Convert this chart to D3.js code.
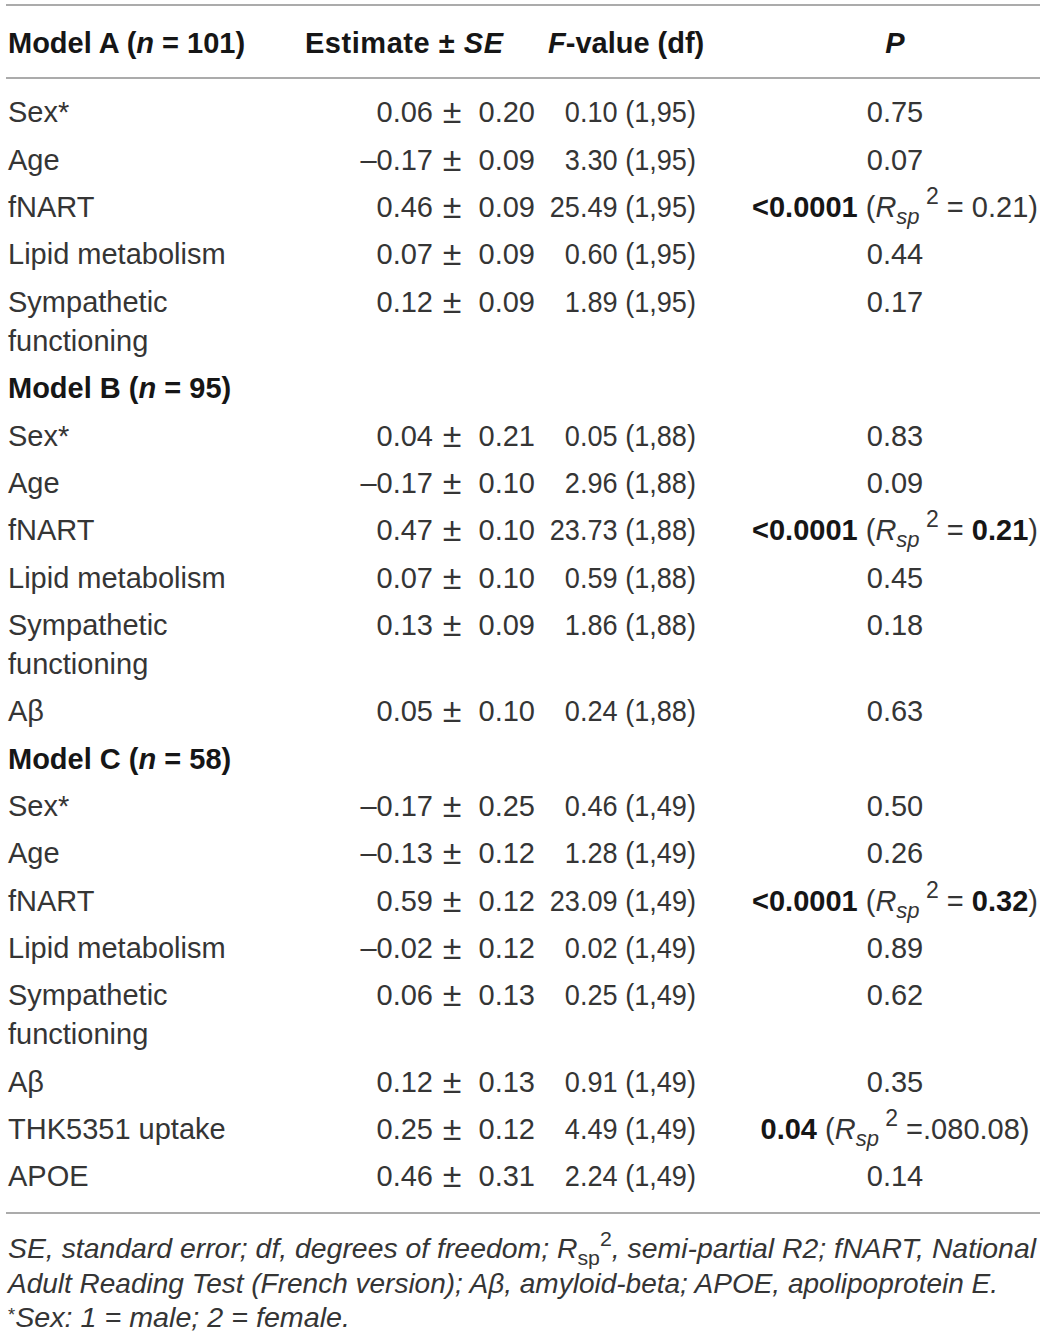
<!DOCTYPE html>
<html>
<head>
<meta charset="utf-8">
<script src="https://cdn.jsdelivr.net/npm/d3@7"></script>
<style>
  html, body { margin: 0; padding: 0; background: #fff; }
  svg { display: block; }
  text { font-family: "Liberation Sans", Arial, Helvetica, sans-serif; }
</style>
</head>
<body>
<svg id="chart" width="1042" height="1340"></svg>
<script>
// ---------------- DATA ----------------
const modelNames = ["Model A", "Model B", "Model C"];
const modelN = [101, 95, 58];
const modelDf = ["1,95", "1,88", "1,49"];

const rowModel = [0,0,0,0,0, 1,1,1,1,1,1, 2,2,2,2,2,2,2,2];
const variables = [
  "Sex*", "Age", "fNART", "Lipid metabolism", "Sympathetic functioning",
  "Sex*", "Age", "fNART", "Lipid metabolism", "Sympathetic functioning", "Aβ",
  "Sex*", "Age", "fNART", "Lipid metabolism", "Sympathetic functioning", "Aβ", "THK5351 uptake", "APOE"
];
const estimates = [0.06, -0.17, 0.46, 0.07, 0.12,
                   0.04, -0.17, 0.47, 0.07, 0.13, 0.05,
                   -0.17, -0.13, 0.59, -0.02, 0.06, 0.12, 0.25, 0.46];
const stdErrors = [0.20, 0.09, 0.09, 0.09, 0.09,
                   0.21, 0.10, 0.10, 0.10, 0.09, 0.10,
                   0.25, 0.12, 0.12, 0.12, 0.13, 0.13, 0.12, 0.31];
const fValues = [0.10, 3.30, 25.49, 0.60, 1.89,
                 0.05, 2.96, 23.73, 0.59, 1.86, 0.24,
                 0.46, 1.28, 23.09, 0.02, 0.25, 0.91, 4.49, 2.24];
const pValues = ["0.75", "0.07", "<0.0001", "0.44", "0.17",
                 "0.83", "0.09", "<0.0001", "0.45", "0.18", "0.63",
                 "0.50", "0.26", "<0.0001", "0.89", "0.62", "0.35", "0.04", "0.14"];
const pBold = [false,false,true,false,false,
               false,false,true,false,false,false,
               false,false,true,false,false,false,true,false];
// semi-partial R² annotation (null = none)
const rspValues = [null,null,"0.21",null,null,
                   null,null,"0.21",null,null,null,
                   null,null,"0.32",null,null,null,".080.08",null];
const rspEq = [null,null," = ",null,null,
               null,null," = ",null,null,null,
               null,null," = ",null,null,null," =",null];
const rspBold = [false,false,false,false,false,
                 false,false,true,false,false,false,
                 false,false,true,false,false,false,false,false];

const headerLabels = ["Estimate ± ", "SE", "F", "-value (df)", "P"];
const footnotes = [
  [["SE", "i"], [", standard error; df, degrees of freedom; ", "i"], ["R", "i"], ["sp", "sub"], ["2", "sup"], [", semi-partial R2; fNART, National", "i"]],
  [["Adult Reading Test (French version); Aβ, amyloid-beta; APOE, apolipoprotein E.", "i"]],
  [["*", "star"], ["Sex: 1 = male; 2 = female.", "i"]]
];

// ---------------- LAYOUT ----------------
const svg = d3.select("#chart");
const fs = 29;
const bodyColor = "#353535";
const headColor = "#161616";
const lineColor = "#ababab";

const lines = [];
let lastModel = -1;
rowModel.forEach((m, i) => {
  if (m !== lastModel) {
    if (m > 0) lines.push({ type: "model", model: m });
    lastModel = m;
  }
  lines.push({ type: "row", idx: i, model: m });
});

const rowStep = 47.35, wrapStep = 39;
let acc = 0;
lines.forEach(l => {
  l.pos = acc;
  const wrap = l.type === "row" && variables[l.idx].indexOf("Sympathetic") === 0;
  l.wrap = wrap;
  acc += rowStep + (wrap ? wrapStep : 0);
});
const y = d3.scaleLinear().domain([0, 1]).range([112, 113]);
const base = d => y(d) + 10.4;

const x = {
  label: 8, estEnd: 433, pm: 452, seEnd: 535, fEnd: 696, p: 895,
  headEst: 305, headF: 548
};

// rules
const rules = [5, 78, 1213];
svg.selectAll("line.rule").data(rules).join("line")
  .attr("class", "rule")
  .attr("x1", 6).attr("x2", 1040)
  .attr("y1", d => d).attr("y2", d => d)
  .attr("stroke", lineColor).attr("stroke-width", 2);

// header
const hb = 53;
const h1 = svg.append("text").attr("x", x.label).attr("y", hb)
  .attr("font-size", fs).attr("font-weight", "bold").attr("fill", headColor);
h1.append("tspan").text(modelNames[0] + " (");
h1.append("tspan").attr("font-style", "italic").text("n");
h1.append("tspan").text(" = " + modelN[0] + ")");

const h2 = svg.append("text").attr("x", x.headEst).attr("y", hb)
  .attr("font-size", fs).attr("font-weight", "bold").attr("fill", headColor)
  .attr("textLength", 198).attr("lengthAdjust", "spacing");
h2.append("tspan").text(headerLabels[0]);
h2.append("tspan").attr("font-style", "italic").text(headerLabels[1]);

const h3 = svg.append("text").attr("x", x.headF).attr("y", hb)
  .attr("font-size", fs).attr("font-weight", "bold").attr("fill", headColor);
h3.append("tspan").attr("font-style", "italic").text(headerLabels[2]);
h3.append("tspan").text(headerLabels[3]);

svg.append("text").attr("x", x.p).attr("y", hb).attr("text-anchor", "middle")
  .attr("font-size", fs).attr("font-weight", "bold").attr("font-style", "italic")
  .attr("fill", headColor).text(headerLabels[4]);

const fmt = v => (v < 0 ? "–" : "") + Math.abs(v).toFixed(2);

lines.forEach(l => {
  const b = base(l.pos);
  if (l.type === "model") {
    const t = svg.append("text").attr("x", x.label).attr("y", b)
      .attr("font-size", fs).attr("font-weight", "bold").attr("fill", headColor);
    t.append("tspan").text(modelNames[l.model] + " (");
    t.append("tspan").attr("font-style", "italic").text("n");
    t.append("tspan").text(" = " + modelN[l.model] + ")");
    return;
  }
  const i = l.idx;
  const g = svg.append("g").attr("fill", bodyColor).attr("font-size", fs);
  const lab = g.append("text").attr("x", x.label).attr("y", b);
  if (l.wrap) {
    const parts = variables[i].split(" ");
    lab.append("tspan").attr("x", x.label).attr("y", b).text(parts[0]);
    lab.append("tspan").attr("x", x.label).attr("y", b + wrapStep).text(parts.slice(1).join(" "));
  } else {
    lab.text(variables[i]);
  }
  g.append("text").attr("x", x.estEnd).attr("y", b).attr("text-anchor", "end").text(fmt(estimates[i]));
  g.append("text").attr("x", x.pm).attr("y", b + 1).attr("text-anchor", "middle")
    .attr("font-size", 34).text("±");
  g.append("text").attr("x", x.seEnd).attr("y", b).attr("text-anchor", "end").text(fmt(stdErrors[i]));
  const ft = g.append("text").attr("x", x.fEnd).attr("y", b).attr("text-anchor", "end")
    .text(fmt(fValues[i]) + " (" + modelDf[rowModel[i]] + ")");
  const natural = ft.node().getComputedTextLength();
  if (natural > 0) ft.attr("textLength", natural * 0.935).attr("lengthAdjust", "spacingAndGlyphs");
  const pt = g.append("text").attr("x", x.p).attr("y", b).attr("text-anchor", "middle");
  const pv = pt.append("tspan").text(pValues[i]);
  if (pBold[i]) pv.attr("font-weight", "bold").attr("fill", headColor);
  if (rspValues[i] !== null) {
    pt.append("tspan").text(" (");
    pt.append("tspan").attr("font-style", "italic").text("R");
    pt.append("tspan").attr("font-style", "italic").attr("font-size", 22).attr("dy", 7).text("sp");
    pt.append("tspan").attr("font-size", 23).attr("dy", -20).text(" 2");
    pt.append("tspan").attr("dy", 13).text(rspEq[i]);
    const rv = pt.append("tspan").text(rspValues[i]);
    if (rspBold[i]) rv.attr("font-weight", "bold").attr("fill", headColor);
    pt.append("tspan").text(")");
  }
});

// footnotes
const footBase = [1258, 1293, 1327];
const footEnd = [1036, 998, 350];
const footFs = 28;
footnotes.forEach((segs, k) => {
  const t = svg.append("text").attr("x", x.label).attr("y", footBase[k])
    .attr("font-size", footFs).attr("fill", bodyColor);
  let shift = 0;
  segs.forEach(([s, kind]) => {
    const ts = t.append("tspan").text(s);
    if (kind === "i") {
      ts.attr("font-style", "italic").attr("dy", -shift); shift = 0;
    } else if (kind === "sub") {
      ts.attr("font-size", 21).attr("dy", 7 - shift); shift = 7;
    } else if (kind === "sup") {
      ts.attr("font-size", 21).attr("dy", -12 - shift); shift = -12;
    } else if (kind === "star") {
      ts.attr("font-size", 18).attr("dy", -6 - shift); shift = -6;
    }
  });
  t.attr("textLength", footEnd[k] - x.label).attr("lengthAdjust", "spacingAndGlyphs");
});
</script>
</body>
</html>
